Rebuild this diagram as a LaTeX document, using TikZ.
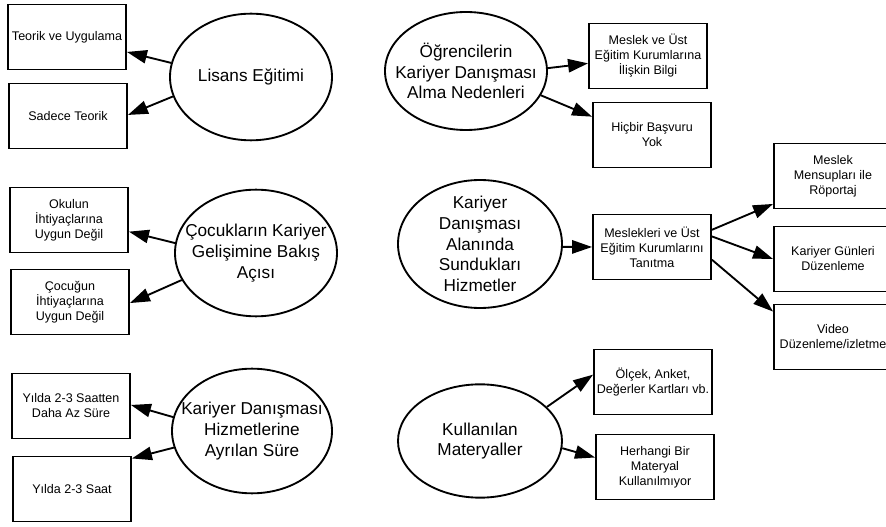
\documentclass[tikz,border=0pt]{standalone}
\usepackage{fontspec}
\setmainfont{Liberation Sans}
\usetikzlibrary{shapes.geometric}
\usetikzlibrary{arrows.meta}

\begin{document}
\begin{tikzpicture}[x=0.75pt,y=-0.75pt,
    kutu/.style={draw,line width=1.4pt,rectangle,minimum width=88.5pt,minimum height=48.75pt,inner sep=1.5pt,align=center,font=\fontsize{9.4pt}{11.25pt}\selectfont},
    oval/.style={draw,line width=1.4pt,ellipse,inner sep=-16pt,align=center,font=\fontsize{12.9pt}{15.5pt}\selectfont},
    ok/.style={line width=1.4pt,-{Triangle[length=15pt,width=10pt]}}]
    \useasboundingbox (0,0) rectangle (886,527);
    % Place nodes
    \node [oval,minimum width=121.5pt,minimum height=95pt] (lisans) at (251,77) {Lisans Eğitimi};
    \node [kutu] (teorik) at (67,37) {Teorik ve Uygulama};
    \node [kutu] (sadece) at (68,116) {Sadece Teorik};

    \node [oval,minimum width=121.5pt,minimum height=95pt] (bakis) at (256,253) {Çocukların Kariyer\\Gelişimine Bakış\\Açısı};
    \node [kutu] (okulun) at (69,220) {Okulun\\İhtiyaçlarına\\Uygun Değil};
    \node [kutu] (cocugun) at (70,302) {Çocuğun\\İhtiyaçlarına\\Uygun Değil};

    \node [oval,minimum width=120pt,minimum height=93.5pt] (sure) at (252,431) {Kariyer Danışması\\Hizmetlerine\\Ayrılan Süre};
    \node [kutu] (azsure) at (71,406) {Yılda 2-3 Saatten\\Daha Az Süre};
    \node [kutu] (saat) at (72,489) {Yılda 2-3 Saat};

    \node [oval,minimum width=121.5pt,minimum height=88.5pt] (nedenler) at (466,71) {Öğrencilerin\\Kariyer Danışması\\Alma Nedenleri};
    \node [kutu] (bilgi) at (648,56) {Meslek ve Üst\\Eğitim Kurumlarına\\İlişkin Bilgi};
    \node [kutu] (basvuru) at (652,135) {Hiçbir Başvuru\\Yok};

    \node [oval,minimum width=123pt,minimum height=96pt] (hizmetler) at (480,244) {Kariyer\\Danışması\\Alanında\\Sundukları\\Hizmetler};
    \node [kutu] (tanitma) at (652,247) {Meslekleri ve Üst\\Eğitim Kurumlarını\\Tanıtma};
    \node [kutu] (roportaj) at (833,176) {Meslek\\Mensupları ile\\Röportaj};
    \node [kutu] (gunler) at (833,259) {Kariyer Günleri\\Düzenleme};
    \node [kutu] (video) at (833,337) {Video\\Düzenleme/izletme};

    \node [oval,minimum width=123pt,minimum height=85pt] (materyal) at (480,441) {Kullanılan\\Materyaller};
    \node [kutu] (olcek) at (653,382) {Ölçek, Anket,\\Değerler Kartları vb.};
    \node [kutu] (yok) at (655,467) {Herhangi Bir\\Materyal\\Kullanılmıyor};

    % Arrows
    \draw [ok] (lisans.170) -- (teorik.-14);
    \draw [ok] (lisans.194) -- (sadece.1);
    \draw [ok] (bakis.173) -- (okulun.-11);
    \draw [ok] (bakis.200) -- (cocugun.-1);
    \draw [ok] (sure.170) -- (azsure.1);
    \draw [ok] (sure.192) -- (saat.27);
    \draw [ok] (nedenler.2) -- (bilgi.187);
    \draw [ok] (nedenler.-18) -- (basvuru.163);
    \draw [ok] (hizmetler.-2) -- (tanitma.west);
    \draw [ok] (tanitma.16) -- (roportaj.205);
    \draw [ok] (tanitma.10) -- (gunler.180);
    \draw [ok] (tanitma.-12) -- (video.157);
    \draw [ok] (materyal.27) -- (olcek.173);
    \draw [ok] (materyal.-5) -- (yok.171);
\end{tikzpicture}
\end{document}
